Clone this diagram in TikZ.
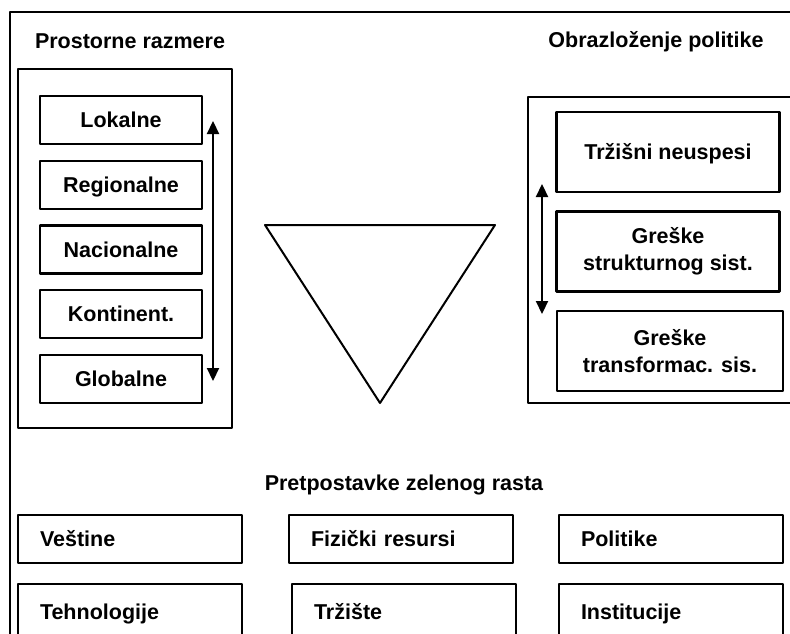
\documentclass[tikz,border=0pt]{standalone}
\usepackage{fontspec}
\setmainfont{Liberation Sans}
\usetikzlibrary{arrows.meta}
\begin{document}
\begin{tikzpicture}[x=1pt, y=-1pt, font=\fontsize{21.5}{27}\selectfont\bfseries, line join=round, >={Triangle[length=13pt,width=12pt]}]
	\tikzset{nivo/.style={draw, line width=2.2pt, minimum width=162pt, minimum height=48pt, inner sep=0pt, text height=17pt, text depth=2pt},
		razlog/.style={draw, line width=2.2pt, minimum width=223pt, minimum height=80pt, align=center, inner sep=0pt},
		uslov/.style={draw, line width=2.2pt, text width=180pt, inner xsep=22pt, minimum height=48pt, align=left, text height=17pt, text depth=2pt},
		okvir/.style={line width=2.4pt}}
	\useasboundingbox (0,0) rectangle (790,634);
	\clip (0,0) rectangle (790,634);
	\draw[okvir] (10,12) rectangle (820,660);
	% prostorne razmere
	\node (naslov1) at (130,41) {Prostorne razmere};
	\draw[okvir] (18,69) rectangle (232,428);
	\foreach \ime [count=\i] in {Lokalne, Regionalne, Nacionalne, Kontinent., Globalne}
		\node[nivo] (lev\i) at (121,{120+64.75*(\i-1)}) {\ime};
	\coordinate (lgore) at (213,121);
	\coordinate (ldole) at (213,381);
	\draw[<->, line width=2.2pt] (lgore)--(ldole);
	% trougao
	\draw[line width=2pt] (265,225)--(495,225)--(380,403)--cycle;
	% obrazlozenje politike
	\node (naslov2) at (656,42) {Obrazloženje politike};
	\draw[okvir] (820,97) -| (528,403) -- (820,403);
	\node[razlog, text height=17pt, text depth=2pt] (raz1) at (668,152) {Tržišni neuspesi};
	\node[razlog] (raz2) at (668,251.5) {Greške\\strukturnog sist.};
	\node[razlog, minimum width=226pt] (raz3) at (670,351) {Greške\\transformac. sis.};
	\coordinate (dgore) at (542,184);
	\coordinate (ddole) at (542,314);
	\draw[<->, line width=2.2pt] (dgore)--(ddole);
	% pretpostavke zelenog rasta
	\node (naslov3) at (404,485) {Pretpostavke zelenog rasta};
	\node[uslov] (usl1) at (130,539) {Veštine};
	\node[uslov] (usl2) at (401,539) {Fizički resursi};
	\node[uslov] (usl3) at (671,539) {Politike};
	\node[uslov, minimum height=56pt] (usl4) at (130,612) {Tehnologije};
	\node[uslov, minimum height=56pt] (usl5) at (404,612) {Tržište};
	\node[uslov, minimum height=56pt] (usl6) at (671,612) {Institucije};
\end{tikzpicture}
\end{document}
